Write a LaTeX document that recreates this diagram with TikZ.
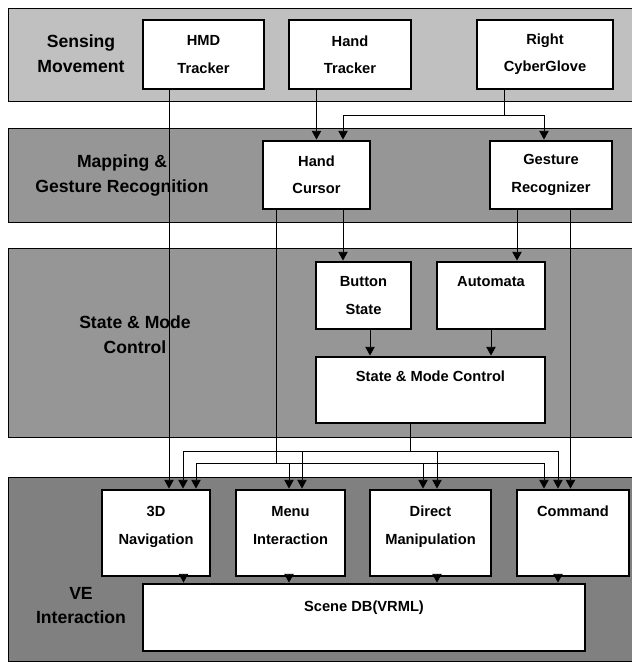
\documentclass[tikz,border=0pt]{standalone}
\usepackage{fontspec}
\setmainfont{Liberation Sans}
\usepackage{tikz}
\usetikzlibrary{arrows.meta}
\definecolor{SenseGray}{RGB}{192,192,192}
\definecolor{MapGray}{RGB}{150,150,150}
\definecolor{VEGray}{RGB}{128,128,128}

\tikzset{
  band/.style={draw=black, line width=0.6pt},
  layer/.style={font=\fontsize{13.2}{18.5}\selectfont\bfseries, align=center},
  box/.style={draw=black, fill=white, line width=2.2pt, inner sep=0pt,
              align=center, font=\fontsize{11}{20.5}\selectfont\bfseries},
  wire/.style={line width=0.6pt},
  conn/.style={wire, -{Triangle[length=6.5pt,width=7pt]}}
}

\begin{document}
\begin{tikzpicture}[x=0.75pt, y=-0.75pt]
    \useasboundingbox (0,0) rectangle (632,662);

    % layers
    \fill[white] (0,0) rectangle (632,662);
    \draw[band, fill=SenseGray] (8,8) rectangle (640,101);
    \draw[band, fill=MapGray] (8,128) rectangle (640,222);
    \draw[band, fill=MapGray] (8,248) rectangle (640,437);
    \draw[band, fill=VEGray] (8,477) rectangle (640,661);

    \node[layer] (lsense) at (81,53.5) {Sensing\\Movement};
    \node[layer] (lmap) at (122,175.5) {Mapping \&\\Gesture Recognition};
    \node[layer] (lstate) at (135,334.5) {State \& Mode\\Control};
    \node[layer] (lve) at (81,605.5) {VE\\Interaction};

    % sensing
    \node[box, minimum width=90.75pt, minimum height=51.75pt] (hmd) at (203.5,54.5) {HMD\\Tracker};
    \node[box, minimum width=91.5pt, minimum height=51.75pt] (htrk) at (350,54.5) {Hand\\Tracker};
    \node[box, minimum width=102pt, minimum height=51.75pt] (glove) at (545,54.5) {Right\\CyberGlove};

    % mapping
    \node[box, minimum width=80.25pt, minimum height=51pt] (cursor) at (316.5,175) {Hand\\Cursor};
    \node[box, minimum width=91.5pt, minimum height=51pt] (gesture) at (551,175) {Gesture\\Recognizer};

    % state and mode
    \node[box, minimum width=71.25pt, minimum height=50.25pt] (button) at (363.5,295.5) {Button\\State};
    \node[box, minimum width=81pt, minimum height=50.25pt] (automata) at (491,295.5) {Automata\\\mbox{}};
    \node[box, minimum width=171.75pt, minimum height=49.5pt] (smc) at (430.5,390) {State \& Mode Control\\\mbox{}};

    % VE interaction
    \node[box, minimum width=81pt, minimum height=64.5pt] (nav) at (156,533) {3D\\Navigation\\[-9pt]\mbox{}};
    \node[box, minimum width=81.75pt, minimum height=64.5pt] (menu) at (290.5,533) {Menu\\Interaction\\[-9pt]\mbox{}};
    \node[box, minimum width=90.75pt, minimum height=64.5pt] (direct) at (430.5,533) {Direct\\Manipulation\\[-9pt]\mbox{}};
    \node[box, minimum width=84pt, minimum height=64.5pt] (command) at (573,533) {Command\\\mbox{}\\[-9pt]\mbox{}};
    \node[box, minimum width=331.5pt, minimum height=50.25pt] (scene) at (364,617.5) {Scene DB(VRML)\\[-3pt]\mbox{}};

    % sensors to mapping
    \draw[conn] (hmd.south -| 169,0) -- (nav.north -| 169,0);
    \draw[conn] (htrk.south -| 316.5,0) -- (cursor.north -| 316.5,0);
    \draw[wire] (glove.south -| 504,0) -- (504,115) coordinate (gsplit);
    \draw[conn] (gsplit) -| (cursor.north -| 343,0);
    \draw[conn] (gsplit) -| (gesture.north -| 544,0);

    % mapping to state
    \draw[conn] (cursor.south -| 343,0) -- (button.north -| 343,0);
    \draw[conn] (gesture.south -| 517,0) -- (automata.north -| 517,0);
    \draw[conn] (button.south -| 370,0) -- (smc.north -| 370,0);
    \draw[conn] (automata.south -| 491,0) -- (smc.north -| 491,0);
    \draw[conn] (gesture.south -| 570.5,0) -- (command.north -| 570.5,0);

    % hand cursor bus
    \draw[wire] (cursor.south -| 276,0) -- (276,463) coordinate (cbus);
    \draw[conn] (cbus) -| (nav.north -| 196,0);
    \draw[conn] (cbus) -| (menu.north -| 289,0);
    \draw[conn] (cbus) -| (direct.north -| 423,0);
    \draw[conn] (cbus) -| (command.north -| 544,0);

    % state and mode bus
    \draw[wire] (smc.south -| 410,0) -- (410,451) coordinate (sbus);
    \draw[conn] (sbus) -| (nav.north -| 183,0);
    \draw[conn] (sbus) -| (menu.north -| 302,0);
    \draw[conn] (sbus) -| (direct.north -| 437,0);
    \draw[conn] (sbus) -| (command.north -| 558,0);

    % to scene
    \draw[conn] (nav.south -| 183.5,0) -- (scene.north -| 183.5,0);
    \draw[conn] (menu.south -| 289,0) -- (scene.north -| 289,0);
    \draw[conn] (direct.south -| 437,0) -- (scene.north -| 437,0);
    \draw[conn] (command.south -| 558,0) -- (scene.north -| 558,0);
\end{tikzpicture}
\end{document}
